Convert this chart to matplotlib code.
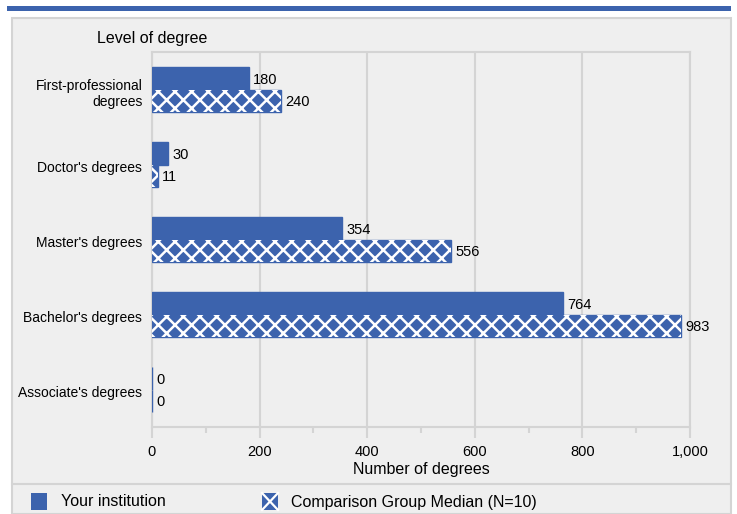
import numpy as np
import matplotlib.pyplot as plt
import matplotlib.transforms as mtransforms
from matplotlib.patches import Rectangle
from matplotlib.ticker import MultipleLocator, FuncFormatter

plt.rcParams['font.family'] = ['Liberation Sans', 'DejaVu Sans']
plt.rcParams['hatch.linewidth'] = 1.8

categories = ["First-professional\ndegrees", "Doctor's degrees", "Master's degrees",
              "Bachelor's degrees", "Associate's degrees"]
your_inst = [180, 30, 354, 764, 0]
comp_median = [240, 11, 556, 983, 0]

blue = "#3c63ad"
panel_bg = "#efefef"
border = "#d4d4d4"

fig = plt.figure(figsize=(7.37, 5.14), dpi=100)

# outer gray panel and top blue rule
fig.patches.append(Rectangle((11.5 / 737, 0), (731 - 11.5) / 737, (514 - 18) / 514,
                             transform=fig.transFigure, facecolor=panel_bg,
                             edgecolor=border, linewidth=1.5, zorder=-2))
fig.patches.append(Rectangle((7 / 737, (514 - 11) / 514), (731 - 7) / 737, 5 / 514,
                             transform=fig.transFigure, facecolor=blue,
                             edgecolor='none', zorder=-1))
fig.add_artist(plt.Line2D([11.5 / 737, 731 / 737], [(514 - 484) / 514] * 2,
                          transform=fig.transFigure, color=border, linewidth=1.5))

ax = fig.add_axes([152 / 737, (514 - 427) / 514, (690 - 152) / 737, (427 - 52) / 514])
ax.set_facecolor(panel_bg)

y = np.arange(len(categories))[::-1]
h = 0.3

ax.barh(y + h / 2, your_inst, height=h, color=blue, edgecolor=blue, linewidth=1, zorder=3)
ax.barh(y - h / 2, comp_median, height=h, color=blue, edgecolor=blue, linewidth=1, zorder=3)
ax.barh(y - h / 2, comp_median, height=h, color=blue, edgecolor='white', linewidth=0,
        hatch='xx', zorder=4)

for yi, v in zip(y, your_inst):
    ax.annotate(str(v), (v, yi + h / 2), xytext=(3, -1), textcoords='offset points',
                va='center', ha='left', fontsize=10.5, zorder=5)
for yi, v in zip(y, comp_median):
    ax.annotate(str(v), (v, yi - h / 2), xytext=(3, -1), textcoords='offset points',
                va='center', ha='left', fontsize=10.5, zorder=5)

ax.set_xlim(0, 1000)
ax.set_ylim(-0.5, len(categories) - 0.5)
ax.set_yticks(y)
ax.set_yticklabels(categories, fontsize=10, ha='right')
ax.tick_params(axis='y', length=0, pad=7)
shift = mtransforms.ScaledTranslation(0, -2 / 100, fig.dpi_scale_trans)
for lbl in ax.get_yticklabels():
    lbl.set_transform(lbl.get_transform() + shift)
ax.xaxis.set_major_locator(MultipleLocator(200))
ax.xaxis.set_minor_locator(MultipleLocator(100))
ax.xaxis.set_major_formatter(FuncFormatter(lambda v, p: f"{int(v):,}"))
ax.tick_params(axis='x', which='major', length=8, width=1.5, color=border, labelsize=10.5, pad=5)
ax.tick_params(axis='x', which='minor', length=4, width=1.5, color=border)
ax.grid(axis='x', which='major', color=border, linewidth=1.5, zorder=1)
ax.set_axisbelow(True)
for s in ['left', 'bottom', 'top', 'right']:
    ax.spines[s].set_color(border)
    ax.spines[s].set_linewidth(1.5)

ax.set_xlabel("Number of degrees", fontsize=11.5, labelpad=2)
fig.text(97 / 737, 1 - 38 / 514, "Level of degree", fontsize=11.5, va='center', ha='left')

# legend
fig.patches.append(Rectangle((31 / 737, 1 - 510 / 514), 16 / 737, 17 / 514,
                             transform=fig.transFigure, facecolor=blue, edgecolor='none'))
fig.text(61 / 737, 1 - 502 / 514, "Your institution", fontsize=11.5, va='center')
fig.patches.append(Rectangle((262 / 737, 1 - 510 / 514), 16 / 737, 17 / 514,
                             transform=fig.transFigure, facecolor=blue, edgecolor='none'))
fig.add_artist(plt.Line2D([262 / 737, 278 / 737], [1 - 510 / 514, 1 - 493 / 514],
                          transform=fig.transFigure, color='white', linewidth=1.6))
fig.add_artist(plt.Line2D([262 / 737, 278 / 737], [1 - 493 / 514, 1 - 510 / 514],
                          transform=fig.transFigure, color='white', linewidth=1.6))
fig.text(291 / 737, 1 - 502 / 514, "Comparison Group Median (N=10)", fontsize=11.5, va='center')

fig.savefig("out.png", dpi=100, facecolor='white')
